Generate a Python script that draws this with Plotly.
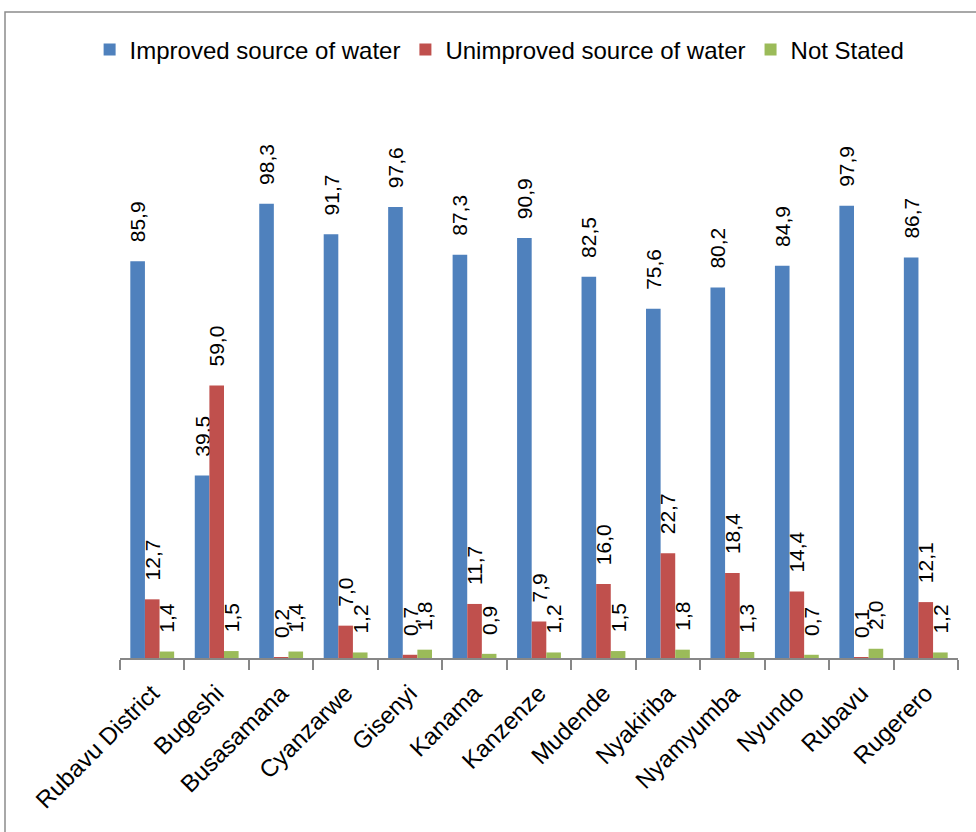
import plotly.graph_objects as go

categories = ["Rubavu District", "Bugeshi", "Busasamana", "Cyanzarwe", "Gisenyi", "Kanama",
              "Kanzenze", "Mudende", "Nyakiriba", "Nyamyumba", "Nyundo", "Rubavu", "Rugerero"]
improved = [85.9, 39.5, 98.3, 91.7, 97.6, 87.3, 90.9, 82.5, 75.6, 80.2, 84.9, 97.9, 86.7]
unimproved = [12.7, 59.0, 0.2, 7.0, 0.7, 11.7, 7.9, 16.0, 22.7, 18.4, 14.4, 0.1, 12.1]
not_stated = [1.4, 1.5, 1.4, 1.2, 1.8, 0.9, 1.2, 1.5, 1.8, 1.3, 0.7, 2.0, 1.2]

series = [
    ("Improved source of water", improved, "#4F81BD"),
    ("Unimproved source of water", unimproved, "#C0504D"),
    ("Not Stated", not_stated, "#9BBB59"),
]

FONT = "Liberation Sans, Arial, sans-serif"
PAD = "\u00a0\u00a0\u2009"

fig = go.Figure()
for name, vals, color in series:
    fig.add_trace(go.Bar(
        name=name, x=categories, y=vals,
        marker=dict(color=color, line=dict(width=0)),
        text=[PAD + f"{v:.1f}".replace(".", ",") for v in vals],
        textposition="outside", textangle=-90, constraintext="none",
        textfont=dict(family=FONT, size=21, color="black"),
        cliponaxis=False,
    ))

L, R, T, B = 120, 18, 100, 174
W, H = 976, 832
pw, ph = W - L - R, H - T - B

fig.update_layout(
    width=W, height=H,
    margin=dict(l=L, r=R, t=T, b=B),
    paper_bgcolor="white", plot_bgcolor="white",
    barmode="group", bargap=0.32, bargroupgap=0,
    font=dict(family=FONT, color="black"),
    legend=dict(orientation="h", x=0.453, xanchor="center", y=1 + 50 / ph, yanchor="middle",
                font=dict(family=FONT, size=24, color="black"), itemwidth=30,
                traceorder="normal"),
    showlegend=True,
    xaxis=dict(showline=True, linecolor="#878787", linewidth=1.5, ticks="outside",
               tickson="boundaries", ticklen=10, tickcolor="#878787", tickwidth=1.5,
               tickangle=-45, tickfont=dict(family=FONT, size=24, color="black"),
               ticklabelstandoff=10, showgrid=False, automargin=False),
    yaxis=dict(range=[0, ph / 4.62], visible=False, showgrid=False, zeroline=False),
    shapes=[dict(type="rect", xref="paper", yref="paper",
                 x0=(5 - L) / pw, x1=(W + 10 - L) / pw,
                 y0=-(H + 10 - (H - B)) / ph, y1=1 + (T - 12) / ph,
                 line=dict(color="#8C8C8C", width=1.5), fillcolor="rgba(0,0,0,0)", layer="below")],
)

fig.write_html("out.html", config={"displayModeBar": False},
               post_script="document.body.style.margin='0';document.body.style.overflow='hidden';")
